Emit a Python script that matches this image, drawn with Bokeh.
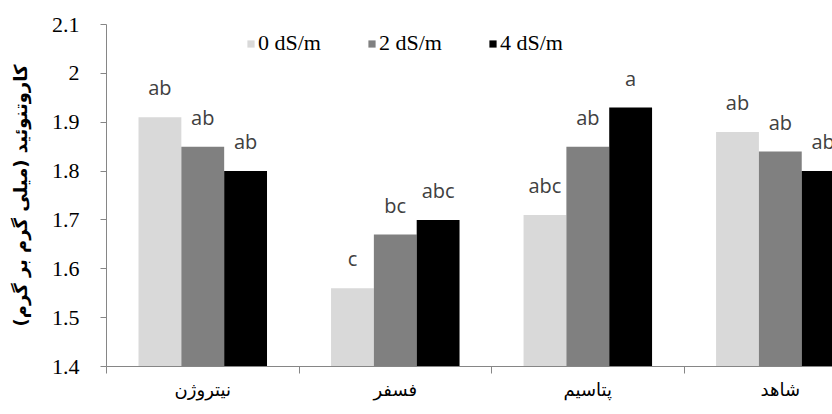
from bokeh.plotting import figure
from bokeh.models import ColumnDataSource, Range1d, FixedTicker
from bokeh.transform import dodge
from bokeh.core.properties import value
from bokeh.embed import file_html
from bokeh.resources import INLINE
import numpy as np

# ---- data ----
categories = ["نیتروژن", "فسفر", "پتاسیم", "شاهد"]
series_names = ["0 dS/m", "2 dS/m", "4 dS/m"]
vals_0 = [1.91, 1.56, 1.71, 1.88]
vals_2 = [1.85, 1.67, 1.85, 1.84]
vals_4 = [1.80, 1.70, 1.93, 1.80]
letters_0 = ["ab", "c", "abc", "ab"]
letters_2 = ["ab", "bc", "ab", "ab"]
letters_4 = ["ab", "abc", "a", "ab"]
y_ticks = [1.4, 1.5, 1.6, 1.7, 1.8, 1.9, 2.0, 2.1]
y_tick_labels = ["1.4", "1.5", "1.6", "1.7", "1.8", "1.9", "2", "2.1"]
y_title = "کاروتنوئید (میلی گرم بر گرم)"

colors = ["#D9D9D9", "#808080", "#000000"]
bar_w = 0.2225
offsets = [-bar_w, 0.0, bar_w]

xc = (np.arange(len(categories)) + 0.5).tolist()
src = ColumnDataSource(dict(xc=xc, v0=vals_0, v2=vals_2, v4=vals_4,
                            l0=letters_0, l2=letters_2, l4=letters_4))

p = figure(width=832, height=414, output_backend="svg", toolbar_location=None,
           x_range=Range1d(0, 3.771), y_range=Range1d(1.4, 2.1),
           min_border_left=106, min_border_right=0, min_border_top=24,
           min_border_bottom=48)
p.outline_line_color = None
p.xgrid.visible = False
p.ygrid.visible = False
p.background_fill_color = "white"

for vf, lf, off, col, name in zip(["v0", "v2", "v4"], ["l0", "l2", "l4"],
                                  offsets, colors, series_names):
    p.vbar(x=dodge("xc", off, range=p.x_range), top=vf, bottom=1.4,
           width=bar_w, source=src, fill_color=col, line_color=None,
           legend_label=name)
    p.text(x=dodge("xc", off, range=p.x_range), y=vf, text=lf, source=src,
           text_align="center", text_baseline="bottom", y_offset=-16,
           text_font=value("Open Sans"), text_font_size="20px",
           text_color="#404040")

axis_col = "#868686"
# y axis
ya = p.yaxis[0]
ya.ticker = FixedTicker(ticks=y_ticks)
ya.major_label_overrides = {t: s for t, s in zip(y_ticks, y_tick_labels)}
ya.axis_line_color = axis_col
ya.major_tick_line_color = axis_col
ya.major_tick_out = 6
ya.major_tick_in = 0
ya.minor_tick_line_color = None
ya.major_label_standoff = 21
ya.major_label_text_font = "Liberation Serif"
ya.major_label_text_font_size = "22px"
ya.major_label_text_color = "black"
ya.axis_label = y_title
ya.axis_label_text_font = "DejaVu Sans"
ya.axis_label_text_font_style = "bold"
ya.axis_label_text_font_size = "18px"
ya.axis_label_text_color = "black"
ya.axis_label_standoff = 18

# x axis
xa = p.xaxis[0]
xa.ticker = FixedTicker(ticks=xc, minor_ticks=list(range(len(categories) + 1)))
xa.major_label_overrides = {t: c for t, c in zip(xc, categories)}
xa.axis_line_color = axis_col
xa.major_tick_line_color = None
xa.minor_tick_line_color = axis_col
xa.minor_tick_out = 7
xa.minor_tick_in = 0
xa.major_label_standoff = 5
xa.major_label_text_font = "DejaVu Sans"
xa.major_label_text_font_size = "18px"
xa.major_label_text_color = "black"

# legend
lg = p.legend[0]
lg.orientation = "horizontal"
lg.location = (140, 310)
lg.border_line_color = None
lg.background_fill_alpha = 0
lg.padding = 0
lg.margin = 0
lg.spacing = 46
lg.glyph_width = 9
lg.glyph_height = 9
lg.label_standoff = 3
lg.label_height = 22
lg.label_text_font = "Liberation Serif"
lg.label_text_font_size = "22px"
lg.label_text_color = "black"

open("out.html", "w").write(file_html(p, INLINE))
